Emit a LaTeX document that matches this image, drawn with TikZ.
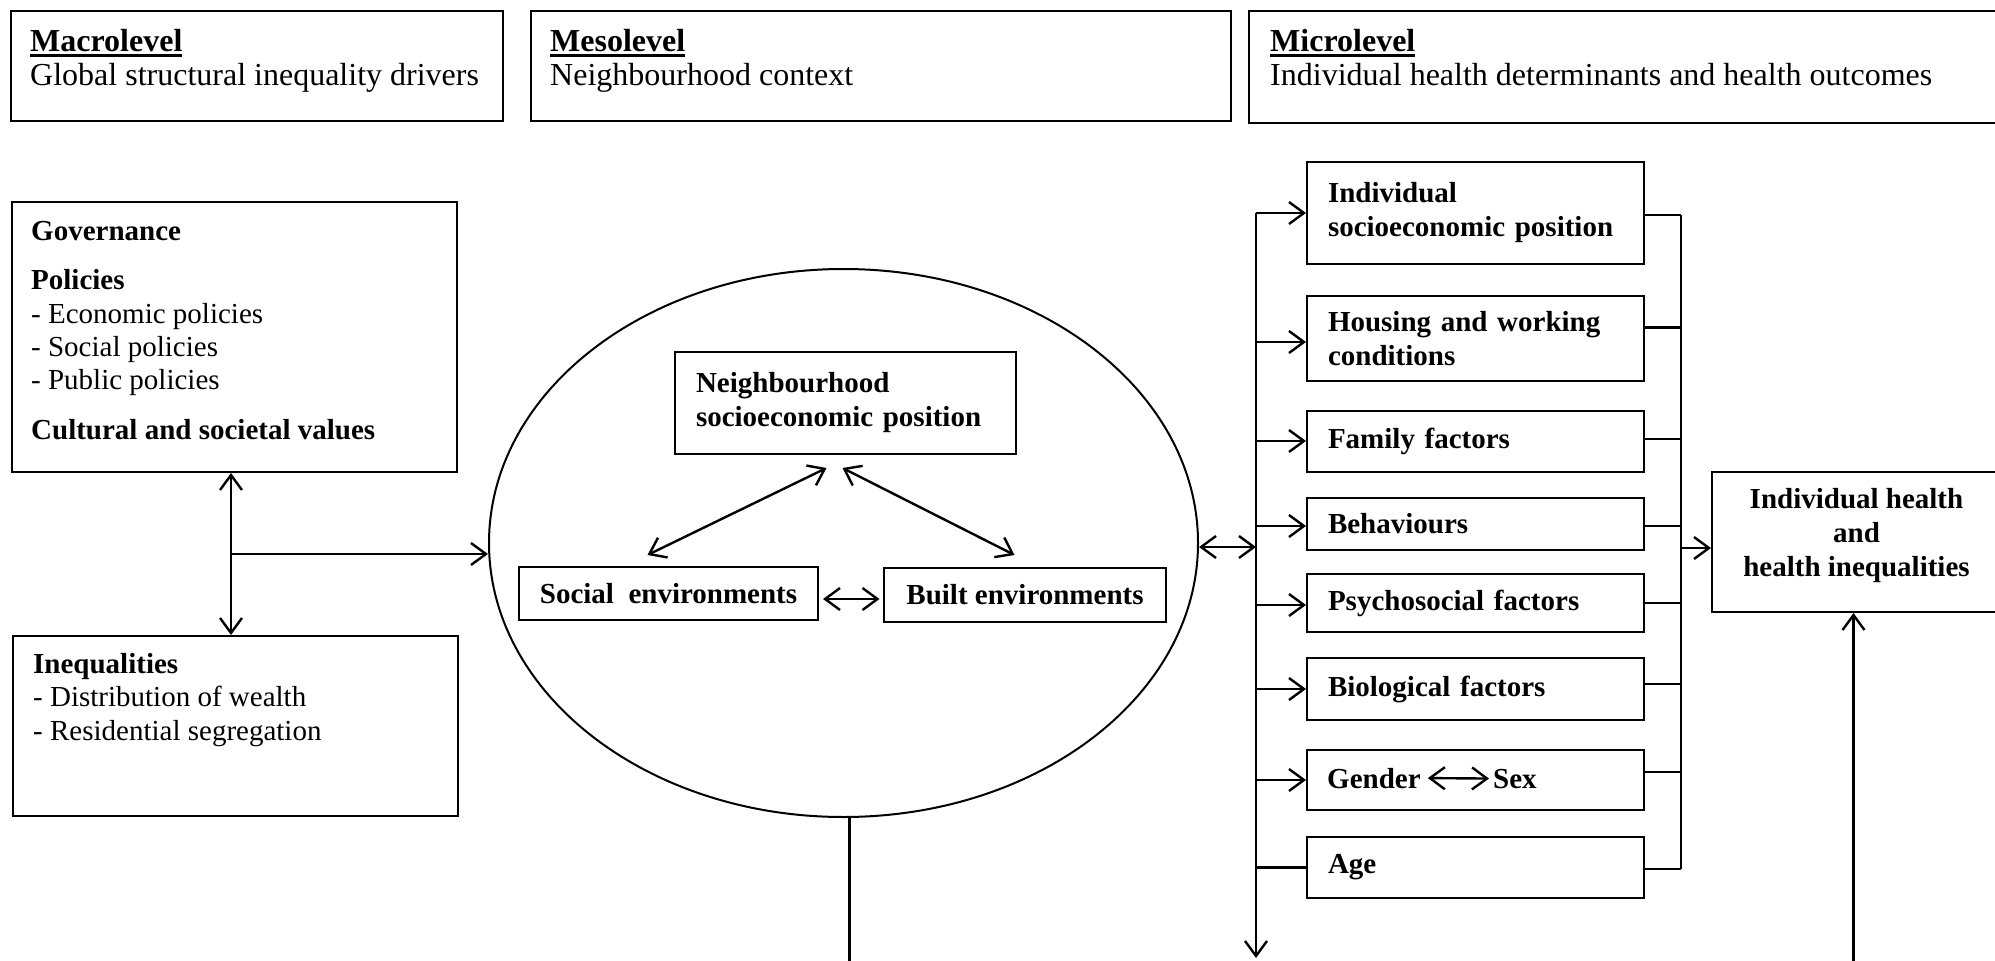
\documentclass[tikz,border=0pt]{standalone}
\usepackage{fontspec}
\setmainfont{Liberation Serif}
\usetikzlibrary{arrows.meta,shapes.geometric,calc}
\newcommand\myul[1]{\setbox0=\hbox{#1}\rlap{\rule[-6pt]{\wd0}{3.5pt}}\box0}
\begin{document}
\begin{tikzpicture}[x=1pt,y=-1pt,
  box/.style={draw, line width=2pt, rectangle, inner sep=0pt},
  txt/.style={inner sep=0pt, font=\fontsize{29}{34}\selectfont},
  ttl/.style={inner sep=0pt, font=\fontsize{32}{38}\selectfont},
  conn/.style={line width=2.4pt},
  arr/.style={line width=2.4pt, -{Straight Barb[length=15pt,width=22pt]}},
  dbl/.style={line width=2.4pt, {Straight Barb[length=15pt,width=22pt]}-{Straight Barb[length=15pt,width=22pt]}},
  lbox/.style={box, font=\bfseries\fontsize{29}{34}\selectfont, align=left, inner xsep=21pt, inner ysep=0pt},
  micro/.style={lbox, text width=295pt, anchor=west},
  cbox/.style={box, font=\bfseries\fontsize{29}{34}\selectfont, align=center, inner ysep=0pt}]
\useasboundingbox (0,0) rectangle (1995,961);

% top level boxes
\node[box, minimum width=492pt, minimum height=110pt, anchor=north west] (macro) at (10,10) {};
\node[ttl, anchor=base west] (macrot) at (30,51) {\myul{\bfseries Macrolevel}};
\node[ttl, anchor=base west] (macrod) at (30,85) {Global structural inequality drivers};
\node[box, minimum width=700pt, minimum height=110pt, anchor=north west] (meso) at (530,10) {};
\node[ttl, anchor=base west] (mesot) at (550,51) {\myul{\bfseries Mesolevel}};
\node[ttl, anchor=base west] (mesod) at (550,85) {Neighbourhood context};
\node[box, minimum width=770pt, minimum height=112pt, anchor=north west] (micro) at (1248,10) {};
\node[ttl, anchor=base west] (microt) at (1270,51) {\myul{\bfseries Microlevel}};
\node[ttl, anchor=base west] (microd) at (1270,85) {Individual health determinants and health outcomes};

% macro boxes
\node[box, minimum width=445pt, minimum height=270pt, anchor=north west] (gov) at (11,201) {};
\node[txt, anchor=base west] (gov1) at (31,240) {\bfseries Governance};
\node[txt, anchor=base west] (gov2) at (31,289) {\bfseries Policies};
\node[txt, anchor=base west] (gov3) at (31,323) {- Economic policies};
\node[txt, anchor=base west] (gov4) at (31,356) {- Social policies};
\node[txt, anchor=base west] (gov5) at (31,389) {- Public policies};
\node[txt, anchor=base west] (gov6) at (31,439) {\bfseries Cultural and societal values};

\node[box, minimum width=445pt, minimum height=180pt, anchor=north west] (ineq) at (12,635) {};
\node[txt, anchor=base west] (ineq1) at (33,673) {\bfseries Inequalities};
\node[txt, anchor=base west] (ineq2) at (33,706) {- Distribution of wealth};
\node[txt, anchor=base west] (ineq3) at (33,740) {- Residential segregation};

% neighbourhood ellipse
\node[ellipse, draw, line width=2pt, minimum width=709pt, minimum height=548pt, inner sep=0pt] (nbh) at (843.5,543) {};
\node[lbox, text width=299pt, minimum height=102pt, anchor=north west] (nsep) at (674,351) {Neighbourhood\\socioeconomic position};
\node[cbox, minimum width=299pt, minimum height=53pt, anchor=north west] (soc) at (518,566) {Social\ \ environments};
\node[cbox, minimum width=282pt, minimum height=54pt, anchor=north west] (built) at (883,567) {Built environments};

\coordinate (j) at (231,554);
\draw[dbl] (gov.south -| j) -- (ineq.north -| j);
\draw[arr] (j) -- (j -| nbh.west);

\draw[dbl] ($(nsep.south)+(-19,13)$) -- ($(soc.north)+(-21,-11)$);
\draw[dbl] ($(nsep.south)+(-3,13)$) -- ($(built.north)+(-10.5,-12)$);
\draw[dbl] ($(soc.east)+(4,5.5)$) -- ($(built.west)+(-3.5,4)$);

% micro boxes
\node[micro, minimum height=102pt] (sep) at (1306,213) {Individual\\socioeconomic position};
\node[micro, minimum height=85pt] (hous) at (1306,338.5) {Housing and working\\conditions};
\node[micro, minimum height=61pt] (fam) at (1306,441) {Family factors};
\node[micro, minimum height=52pt] (beh) at (1306,524) {Behaviours};
\node[micro, minimum height=58pt] (psy) at (1306,603) {Psychosocial factors};
\node[micro, minimum height=62pt] (bio) at (1306,689) {Biological factors};
\node[micro, minimum height=60pt] (gen) at (1306,780) {};
\node[micro, minimum height=61pt] (age) at (1306,867.5) {Age};
\node[txt, anchor=base west, font=\bfseries\fontsize{29}{34}\selectfont] (gtxt) at (1327,788) {Gender};
\node[txt, anchor=base west, font=\bfseries\fontsize{29}{34}\selectfont] (stxt) at (1493,788) {Sex};
\draw[dbl] ($(gtxt.east)+(7,0)$) -- ($(stxt.west)+(-4,0)$);

% bus on the left
\coordinate (bustop) at (1256,213);
\coordinate (busbot) at (1256,958);
\coordinate (busmid) at (1256,547);
\draw[arr] (bustop) -- (busbot);
\draw[dbl] (nbh.east |- busmid) -- (busmid);
\coordinate (hw) at ($(hous.west)+(0,3.5)$);
\coordinate (bw) at ($(beh.west)+(0,2)$);
\coordinate (pw) at ($(psy.west)+(0,2)$);
\draw[arr] (sep.west -| bustop) -- (sep.west);
\draw[arr] (hw -| bustop) -- (hw);
\draw[arr] (fam.west -| bustop) -- (fam.west);
\draw[arr] (bw -| bustop) -- (bw);
\draw[arr] (pw -| bustop) -- (pw);
\draw[arr] (bio.west -| bustop) -- (bio.west);
\draw[arr] (gen.west -| bustop) -- (gen.west);
\draw[conn] (age.west -| bustop) -- (age.west);

% collector on the right
\coordinate (coltop) at (1681,215);
\coordinate (colbot) at (1681,869);
\coordinate (se) at ($(sep.east)+(0,2)$);
\coordinate (he) at ($(hous.east)+(0,-11)$);
\coordinate (fe) at ($(fam.east)+(0,-2)$);
\coordinate (be) at ($(beh.east)+(0,2)$);
\coordinate (ie) at ($(bio.east)+(0,-5)$);
\coordinate (ge) at ($(gen.east)+(0,-8)$);
\draw[conn] (coltop) -- (colbot);
\draw[conn] (se) -- (se -| coltop);
\draw[conn] (he) -- (he -| coltop);
\draw[conn] (fe) -- (fe -| coltop);
\draw[conn] (be) -- (be -| coltop);
\draw[conn] (psy.east) -- (psy.east -| coltop);
\draw[conn] (ie) -- (ie -| coltop);
\draw[conn] (ge) -- (ge -| coltop);
\draw[conn] (age.east |- colbot) -- (colbot);

% health box
\node[box, minimum width=289pt, minimum height=140pt, anchor=north west] (health) at (1711,471) {};
\node[txt, align=center, font=\bfseries\fontsize{29}{34}\selectfont] (healtht) at ($(health.center)+(0,-6)$) {Individual health\\and\\health inequalities};
\coordinate (hwin) at ($(health.west)+(0,6)$);
\coordinate (hsin) at ($(health.south)+(-3,0)$);
\coordinate (hbot) at (hsin |- 0,961);
\draw[arr] (hwin -| coltop) -- (hwin);
\draw[arr] (hbot) -- (hsin);

% line from ellipse down
\coordinate (nb) at ($(nbh.south)+(6,0)$);
\coordinate (nbb) at (nb |- 0,961);
\draw[conn] (nb) -- (nbb);
\end{tikzpicture}
\end{document}
